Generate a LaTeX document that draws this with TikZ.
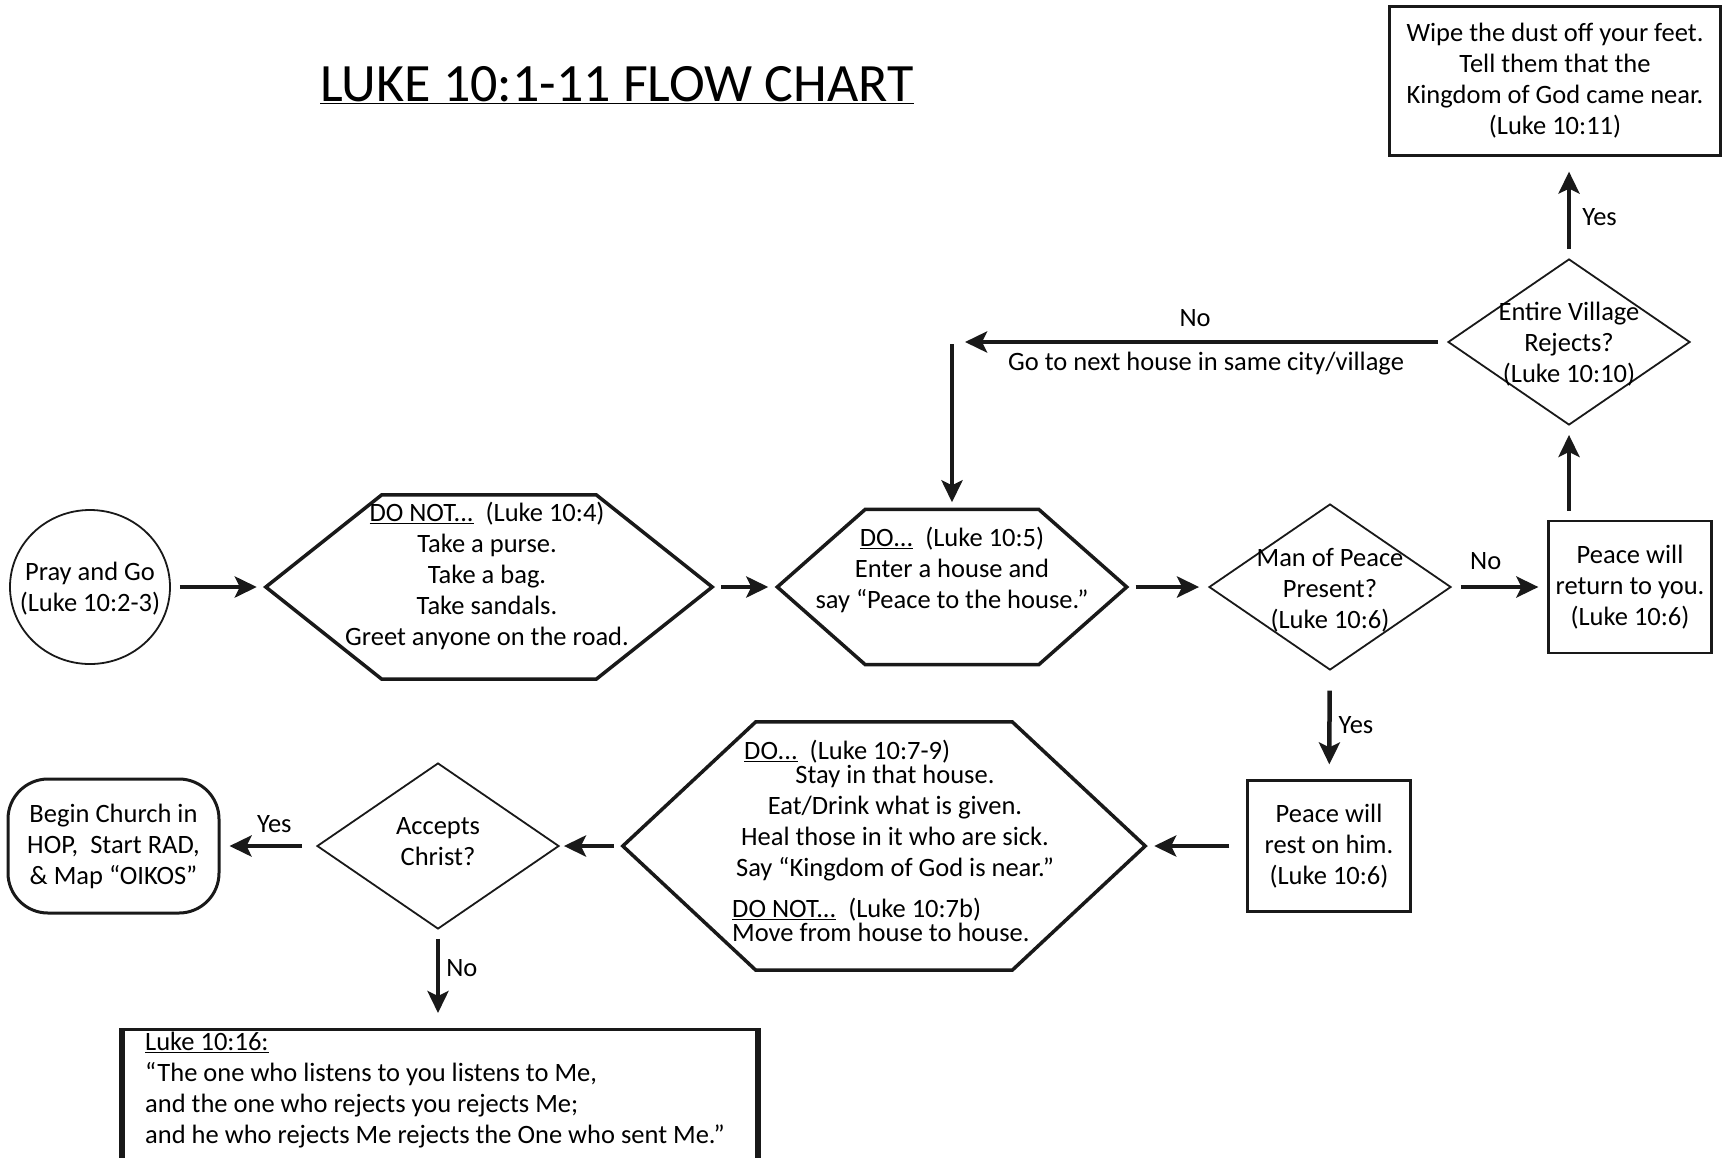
\documentclass[tikz,border=0pt]{standalone}
\usepackage{fontspec}
\setmainfont{Carlito}
\usepackage{tikz}
\usetikzlibrary{calc}
\usetikzlibrary{shapes.geometric}
\usetikzlibrary{arrows.meta}
\definecolor{MyInk}{rgb}{0.1,0.1,0.1}
\newcommand{\ul}[1]{\underline{#1}}
% hexagon round an (invisible) node: name, inset of the corners
\newcommand{\hexline}[2]{\draw [draw=MyInk, line width=3.5] (#1.west) -- ([xshift=#2]#1.north west) -- ([xshift=-#2]#1.north east) -- (#1.east) -- ([xshift=-#2]#1.south east) -- ([xshift=#2]#1.south west) -- cycle;}
\tikzset{
  txt/.style={font=\fontsize{26.5}{31}\selectfont, align=center, inner sep=0},
  lbl/.style={font=\fontsize{26.5}{31}\selectfont, inner sep=3pt},
  decision/.style={diamond, draw=MyInk, line width=1.8, minimum width=242pt, minimum height=166pt, inner sep=0},
  box/.style={rectangle, draw=MyInk, line width=2.2, inner sep=0},
  flow/.style={-{Stealth[length=22pt,width=21pt,inset=5pt]}, draw=MyInk, line width=4.5, shorten <=9pt, shorten >=9pt},
}

\begin{document}
\begin{tikzpicture}[x=1pt, y=-1pt]
        \clip (0,0) rectangle (1723,1157);
        \node[font=\fontsize{54}{60}\selectfont, inner sep=0] (title) at (617,85) {\ul{LUKE 10:1-11 FLOW CHART}};

        % first row
        \node[ellipse, draw=MyInk, line width=1.8, minimum width=160pt, minimum height=154pt, inner sep=0] (pray) at (90,587) {};
        \node[txt] (pray-t) at (90,589) {Pray and Go\\(Luke 10:2-3)};
        \node[minimum width=446pt, minimum height=184pt] (donot) at (489,587) {};
        \hexline{donot}{116pt}
        \node[txt] (donot-t) at (487,576) {\ul{DO NOT...}~~(Luke 10:4)\\Take a purse.\\Take a bag.\\Take sandals.\\Greet anyone on the road.};
        \node[minimum width=349pt, minimum height=155pt] (enter) at (952,587) {};
        \hexline{enter}{88pt}
        \node[txt] (enter-t) at (952,570) {\ul{DO...}~~(Luke 10:5)\\Enter a house and\\say “Peace to the house.”};
        \node[decision] (peace) at (1330,587) {};
        \node[txt] (peace-t) at (1330,590) {Man of Peace\\Present?\\(Luke 10:6)};
        \node[box, minimum width=163pt, minimum height=132pt, txt] (back) at (1630,587) {Peace will\\return to you.\\(Luke 10:6)};

        % right column
        \node[decision] (village) at (1569,342) {};
        \node[txt] (village-t) at (1569,344) {Entire Village\\Rejects?\\(Luke 10:10)};
        \node[box, minimum width=331pt, minimum height=149pt, txt] (wipe) at (1555,81) {Wipe the dust off your feet.\\Tell them that the\\Kingdom of God came near.\\(Luke 10:11)};
        \coordinate (nexthouse) at (965,342);
        \coordinate (turn) at (952,344);

        % second row
        \node[box, minimum width=163pt, minimum height=131pt, txt] (rest) at (1329,846) {Peace will\\rest on him.\\(Luke 10:6)};
        \node[minimum width=522pt, minimum height=248pt] (stay) at (884,846) {};
        \hexline{stay}{133pt}
        \node[txt, anchor=west] (stay-h) at (744,752) {\ul{DO...}~~(Luke 10:7-9)};
        \node[txt] (stay-t) at (895,823) {Stay in that house.\\Eat/Drink what is given.\\Heal those in it who are sick.\\Say “Kingdom of God is near.”};
        \node[txt, align=left, anchor=west, font=\fontsize{26.5}{24}\selectfont] (stay-n) at (732,920) {\ul{DO NOT...}~~(Luke 10:7b)\\Move from house to house.};
        \node[decision] (accepts) at (438,846) {};
        \node[txt] (accepts-t) at (438,842) {Accepts\\Christ?};
        \node[box, rounded corners=40pt, line width=3, minimum width=211pt, minimum height=134pt, txt] (church) at (113.5,846) {Begin Church in\\HOP,~~Start RAD,\\\& Map “OIKOS”};

        % quote at the bottom
        \node[box, line width=3, minimum width=633pt, minimum height=220pt, anchor=north west] (quote) at (122,1028) {};
        \draw [draw=MyInk, line width=6] (quote.north west) -- (quote.south west);
        \draw [draw=MyInk, line width=6] (quote.north east) -- (quote.south east);
        \node[txt, align=left, anchor=west] (quote-t) at (145,1090) {\ul{Luke 10:16:}\\“The one who listens to you listens to Me,\\and the one who rejects you rejects Me;\\and he who rejects Me rejects the One who sent Me.”};

        % connectors
        \draw [flow] (pray) -- (donot);
        \draw [flow] (donot) -- (enter);
        \draw [flow] (enter) -- (peace);
        \draw [flow] (peace) -- node[lbl, above=12pt, xshift=-14pt]{No} (back);
        \draw [flow] (back.north -| village) -- (village);
        \draw [flow, shorten >=15pt] (village) -- node[lbl, right=8pt, yshift=-10pt]{Yes} (village |- wipe.south);
        \draw [flow, shorten >=0pt] (village) -- node[lbl, above=10pt, xshift=-11pt]{No} node[lbl, below=5pt]{Go to next house in same city/village} (nexthouse);
        \draw [flow, shorten <=0pt, shorten >=7pt] (turn) -- (enter.north);
        \draw [flow, shorten <=20pt, shorten >=15pt] (peace) -- node[lbl, right=4pt]{Yes} (rest);
        \draw [flow, shorten <=17pt] (rest) -- (stay);
        \draw [flow, shorten >=4pt] (stay) -- (accepts);
        \draw [flow, shorten <=14pt] (accepts) -- node[lbl, above=8pt, xshift=6pt]{Yes} (church);
        \draw [flow, shorten >=15pt] (accepts) -- node[lbl, right=3pt, yshift=11pt]{No} (accepts |- quote.north);
      \end{tikzpicture}
\end{document}
